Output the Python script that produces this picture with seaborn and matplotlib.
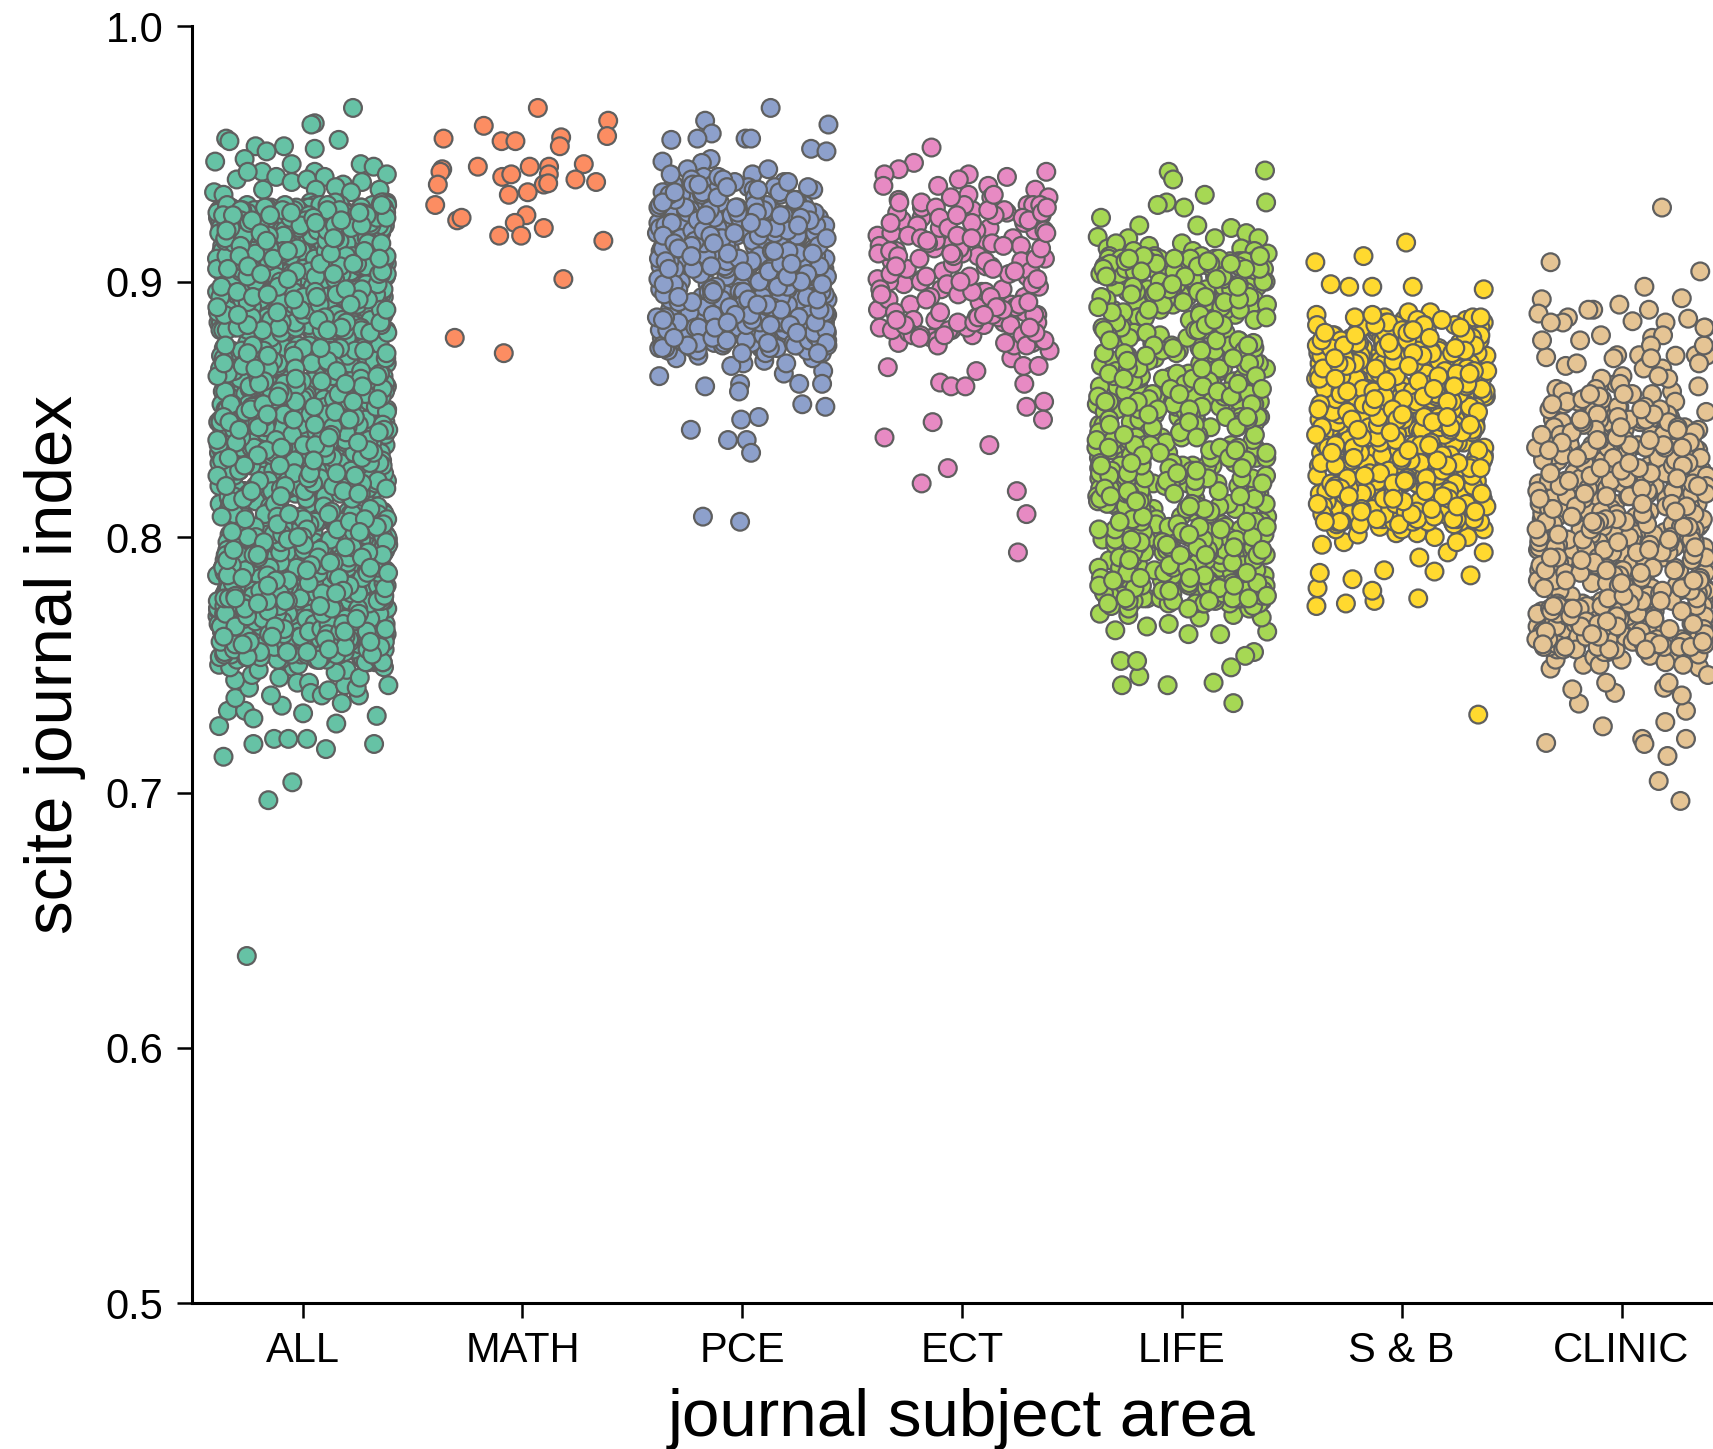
import matplotlib
matplotlib.use("Agg")
import matplotlib.pyplot as plt
import numpy as np
import seaborn as sns
import pandas as pd

categories = ["ALL", "MATH", "PCE", "ECT", "LIFE", "S & B", "CLINIC"]
colors = ["#66c2a5", "#fc8d62", "#8da0cb", "#e78ac3", "#a6d854", "#ffd92f", "#e5c494"]
y_ticks = [0.5, 0.6, 0.7, 0.8, 0.9, 1.0]

# individually readable points: offset from category centre, value
all_x = [-.254,-.156,-.047,-.36,-.224,-.13,-.065,.02,.106,.325,.337,.153,.002,-.38,-.34,-.262,-.224,-.306,-.095,-.144,.178,.256,.39,-.244,-.307,-.231,-.106,-.042,-.024,.029,.037,.087,.117,.193,.246,
         .229,.055,.04,.164,-.348,-.333,-.214,-.085,-.398,-.164,-.264,.055,-.05,.264,.323,.383,-.184,.055,-.403,.184,.383,
         -.30,-.25,-.12,-.05,.02,.1,.15,.27,.35,-.36,-.18,.22,.06,-.38,
         -.38,-.33,-.2,-.02,.08,.2,.33,.37,.15,-.1,.26]
all_y = [.636,.697,.704,.714,.719,.721,.721,.721,.717,.719,.730,.727,.731,.726,.732,.732,.729,.737,.734,.738,.735,.738,.742,.741,.744,.746,.745,.749,.743,.743,.739,.738,.740,.742,.741,
         .968,.962,.9615,.9555,.956,.955,.953,.953,.947,.951,.948,.952,.946,.946,.945,.942,.943,.943,.935,.938,.931,
         .940,.943,.941,.939,.940,.941,.937,.939,.936,.934,.936,.935,.936,.928,
         .750,.749,.748,.750,.752,.748,.751,.749,.747,.752,.745]
math_x = [.07,.39,.385,-.176,-.359,-.095,-.032,.176,.17,-.365,-.373,-.203,.033,.121,.279,-.092,-.051,.12,.241,.335,-.385,.097,.117,.024,-.062,-.397,.018,-.035,-.297,-.277,.097,-.106,-.006,.368,.186,-.308,-.085]
math_y = [.968,.963,.957,.961,.956,.955,.955,.9565,.953,.944,.943,.945,.945,.945,.946,.941,.942,.942,.940,.939,.938,.938,.9385,.935,.934,.930,.926,.923,.924,.925,.921,.918,.918,.916,.901,.878,.872]
pce_x = [.129,-.169,-.139,-.204,-.323,.015,.04,.392,.313,.383,-.363,-.144,-.184,-.378,-.234,-.169,-.01,-.015,-.005,.075,-.065,.02,.04,-.179,-.01,.273,.378,.189,.259,.368,.363,.005,
         -.3,-.05,.1,.32,-.2,.2]
pce_y = [.968,.963,.958,.956,.9555,.956,.956,.9615,.952,.951,.947,.948,.9465,.863,.842,.859,.860,.857,.846,.847,.838,.838,.833,.808,.806,.852,.851,.864,.860,.865,.860,.868,
         .870,.867,.869,.870,.871,.868]
ect_x = [-.139,-.219,-.288,-.353,-.358,.383,.204,.03,-.015,-.109,.119,.333,.393,.298,-.338,.398,.283,.373,.293,.368,-.134,-.353,.124,-.065,-.184,.249,.293,.254,-.1,-.05,.015,.065,.224,.279,.348]
ect_y = [.9525,.9465,.944,.942,.9375,.943,.941,.942,.940,.9375,.9375,.936,.933,.930,.8665,.873,.860,.853,.851,.846,.845,.839,.836,.827,.821,.818,.809,.794,.8605,.859,.859,.865,.870,.867,.867]
life_x = [.378,-.06,-.04,.383,.104,-.07,-.11,.01,-.368,-.194,.07,.224,-.244,-.383,-.338,.293,.348,.234,-.273,-.065,.144,-.194,.224,.328,.288,-.278,-.204,-.303,-.159,-.06,.03,.388,.174,-.373,-.244,.08,.234,.363,
          -.3,-.15,.0,.15,.27,-.22,.05,.33,.39]
life_y = [.9435,.943,.94,.931,.934,.931,.930,.929,.925,.922,.922,.921,.917,.9175,.913,.919,.917,.735,.742,.742,.743,.7455,.749,.755,.7535,.7515,.7515,.7635,.765,.766,.762,.763,.762,.770,.7695,.7685,.7695,.7685,
          .915,.914,.915,.917,.913,.912,.912,.912,.911]
sb_x = [.02,-.174,-.393,.373,-.323,-.239,-.134,.05,.348,-.388,-.254,-.124,.075,-.383,-.134,-.224,-.373,-.08,.149,.313,.08,.209,.373,-.363,-.263,.07,-.025,.373,
        -.3,-.1,.15,.3,-.2,.0,.25]
sb_y = [.9153,.91,.9076,.897,.899,.898,.898,.898,.7305,.773,.774,.775,.776,.78,.779,.7835,.786,.787,.7865,.785,.792,.794,.794,.797,.798,.8015,.8015,.803,
        .803,.804,.800,.800,.801,.803,.798]
clinic_x = [.184,-.323,.358,.104,.274,-.363,-.378,-.129,-.244,-.01,.05,.2,.303,.139,-.02,.08,.338,.388,-.343,.268,.169,.209,-.343,.094,.104,.293,-.085,.199,.293,-.194,-.224,-.03,-.07,.194,.214,.274,-.323,-.174,-.124,.353,.393,.254,.129,
            -.3,-.1,.0,.2,.35,.28]
clinic_y = [.929,.9076,.904,.898,.8935,.8931,.8875,.889,.886,.891,.8845,.884,.8855,.878,.8712,.8712,.8712,.8735,.8704,.6967,.7045,.7143,.7194,.721,.719,.721,.7259,.7276,.732,.7348,.7404,.739,.743,.741,.743,.738,.7485,.75,.753,.749,.746,.7535,.7535,
            .752,.750,.752,.751,.754,.750]

# dense blocks, values in thousandths, estimated from the visible density;
# horizontal spread comes from the strip jitter
all_dense = [751,812,887,768,903,779,842,925,757,861,794,918,773,836,899,752,884,807,929,766,851,912,783,826,874,759,908,797,843,921,771,864,889,755,818,931,786,853,897,762,
 832,916,776,871,804,927,754,846,893,769,815,906,788,859,923,758,838,881,774,901,811,928,765,849,895,781,823,913,756,868,800,924,772,856,886,761,829,910,792,844,
 919,753,876,809,930,767,841,898,778,821,905,790,863,926,760,835,883,775,915,802,852,892,770,817,922,785,847,878,763,909,798,834,927,755,866,888,780,825,901,793,
 857,917,764,840,894,777,813,928,788,850,882,758,904,806,831,920,772,870,896,783,845,911,761,819,925,795,858,885,768,907,801,837,923,757,873,891,779,828,914,790,
 854,929,766,843,899,775,810,918,786,861,880,759,903,797,833,926,771,867,893,782,848,908,763,822,921,792,855,887,755,912,804,839,930,769,875,897,778,826,905,789,
 859,916,760,846,884,773,816,924,796,852,890,765,900,808,830,927,781,869,895,756,842,910,770,824,919,787,860,881,762,906,799,836,922,776,872,898,784,847,913,753,
 820,928,793,856,886,767,902,803,832,925,774,865,892,780,844,909,758,827,917,791,851,883,764,904,807,838,929,772,874,896,785,849,915,757,814,923,794,862,889,768,
 901,800,835,920,777,868,894,782,841,911,761,823,926,789,857,880,770,907,805,829,918,754,871,897,783,846,905,763,818,924,795,853,885,775,912,802,837,927,766,866,
 891,787,843,903,759,825,921,792,860,882,773,908,809,831,916,778,873,898,756,848,910,769,815,928,786,855,887,762,902,798,839,923,781,864,893,771,845,906,790,821,
 919,752,858,884,765,913,803,834,925,776,870,895,784,850,900,760,828,917,797,854,889,767,904,806,840,929,774,867,892,755,842,911,788,819,922,793,861,881,763,907,
 801,833,926,779,875,896,770,847,909,785,824,915,757,852,886,772,903,808,836,920,768,869,894,782,844,912,761,816,927,791,859,883,775,905,799,830,924,764,872,897,
 786,849,908,758,826,918,794,856,888,777,902,804,838,921,771,865,890,783,841,914,760,822,928,796,862,885,766,910,800,835,925,773,874,893,789,846,906,754,817,919,
 787,853,882,769,904,807,832,923,780,868,898,762,843,911,792,828,916,775,857,887,756,901,802,839,930,784,871,895,765,848,907,790,820,926,778,860,884,770,913,805,
 834,922,759,866,891,786,845,903,772,825,917,795,851,889,763,909,798,837,927,776,873,896,781,842,912,768,818,924,793,855,881,761,905,809,831,920,774,863,894,788]
pce_dense = [874,902,931,883,915,891,942,877,908,924,886,897,936,873,911,889,928,879,905,919,893,939,875,900,922,884,913,896,933,881,907,926,888,917,899,944,876,903,920,890,
 912,878,929,894,906,885,937,872,910,923,882,898,916,887,934,880,904,925,892,909,875,941,895,918,883,901,927,877,914,889,930,896,906,881,921,874,911,893,938,886,
 902,919,879,908,928,891,915,884,899,935,876,910,924,888,903,917,881,932,894,907,873,926,897,913,885,900,940,878,912,922,890,905,887,929,882,918,895,909,875,936,
 892,901,920,884,914,877,927,889,906,923,880,898,933,874,911,916,886,904,925,893,881,939,896,908,921,883,913,876,930,890,902,918,887,907,928,879,899,934,872,912,
 924,894,905,882,919,888,915,876,926,891,903,937,884,909,897,921,878,914,886,931,900,917,875,906,923,892,881,911,889,927,877,898,935,895,904,920,883,913,874,929,
 893,908,885,918,896,902,925,880,910,887,932,876,915,899,922,882,905,891,938,878,912,894,907,926,884]
ect_dense = [928,903,887,916,894,925,879,908,934,884,899,921,891,912,877,930,905,886,918,896,933,881,910,889,924,901,875,915,892,927,883,906,920,897,880,913,888,929,902,878,
 917,893,923,885,909,900,876,931,890,914,882,904,926,895,879,919,887,911,898,932,884,907,922,891,877,913,900,928,886,905,918,881,894,924,889,910,897,876,916,903,
 930,883,908,921,892,878,912,899,926,885,904,915,888,880,920,896,909,927,882,893,917,901,875,923,890,906,929,884,898,914,887,879,911,902,925,895]
life_dense = [778,843,897,805,866,788,829,909,774,853,815,881,796,838,904,782,861,821,892,776,847,908,799,872,833,786,898,810,856,780,825,906,793,868,841,775,889,803,851,817,
 902,784,835,877,797,859,909,779,823,895,808,845,873,790,831,905,776,863,813,886,800,850,899,785,827,870,794,839,907,781,857,819,893,777,846,880,802,834,903,788,
 864,811,875,796,843,896,783,828,908,772,855,816,888,804,836,901,791,869,848,779,822,910,798,860,832,883,786,844,894,775,812,874,801,852,905,789,826,866,793,840,
 898,781,858,818,890,806,835,907,776,847,871,795,829,902,784,862,814,885,799,853,896,778,824,878,809,841,909,787,856,831,892,773,849,820,904,797,867,837,882,782,
 845,900,803,859,815,876,790,827,908,777,851,833,894,800,863,823,887,785,842,903,774,854,817,872,794,838,897,780,828,906,807,860,846,884,788,821,910,776,869,835,
 891,798,852,813,901,783,843,879,792,826,905,775,857,839,895,804,865,819,886,787,848,909,779,830,873,801,855,899,789,841,812,893,777,861,824,902,795,850,881,784,
 836,907,774,858,816,889,806,844,875,791,828,904,780,866,834,896,799,853,822,883,786,847,908,776,862,811,900,793,840,877,803,856,825,891,782,838,905,778,868,818]
sb_dense = [845,812,873,826,888,858,806,837,881,851,819,866,830,843,875,809,855,822,884,839,862,815,848,828,870,807,853,835,878,820,860,842,811,867,825,885,850,832,872,817,
 857,840,805,864,827,882,846,813,869,834,854,821,876,808,859,838,886,824,849,871,816,844,831,863,810,880,852,836,868,819,856,841,874,828,806,861,847,814,877,833,
 853,823,866,842,883,811,858,837,870,818,850,829,879,807,864,845,825,855,873,813,840,861,832,887,820,848,869,809,856,835,875,826,852,815,865,843,881,822,859,831,
 872,806,849,838,867,817,854,828,884,812,846,862,834,876,821,857,841,808,870,824,851,836,878,814,860,844,829,866,810,855,833,882,819,847,873,827,858,840,805,863,
 830,852,868,816,843,875,823,856,837,885,811,849,864,832,871,818,854,842,879,807,861,826,845,869,821,853,835,874,813,858,839,883,828,850,866,809,846,872,824,857,
 834,877,817,852,841,862,812,868,830,855,844,880,820,848,873,806,860,836,865,825,851,876,815,843,870,831,856,838,886,810,847,863,827,854,881,819,842,867,808,859,
 833,874,822,850,845,871,814,861,835,878,826,853,840,864,811,857,829,883,817,849,869,823,846,875,807,855,837,866,832,852,879,818,843,872,812,860,828,847,865,821,
 856,839,877,809,851,834,868,824,858,844,882,815,848,862,830,873,806,854,841,870,819,845,876,827,850,836,864,813,859,831,880,822,853,867,810,847,842,874,816,857]
clinic_dense = [812,776,838,795,764,853,821,783,807,769,845,790,828,758,866,801,773,834,815,760,879,797,842,781,825,767,809,851,787,832,756,871,804,775,848,818,792,762,836,799,
 884,779,823,811,766,857,788,840,803,759,829,774,846,794,816,761,862,783,837,806,771,826,755,853,798,819,778,843,789,765,833,808,773,889,801,822,760,849,785,814,
 768,839,796,827,757,860,780,810,844,792,770,831,802,763,856,787,824,776,841,799,817,759,835,782,807,867,772,828,794,848,765,820,788,838,756,805,777,852,797,813,
 769,830,784,843,761,809,875,775,823,791,836,758,801,846,779,815,767,832,795,858,772,826,786,804,763,840,798,819,757,850,781,811,770,834,793,827,762,845,789,806,
 774,837,760,817,800,882,778,822,766,842,790,808,855,783,829,756,796,813,771,835,803,764,847,787,820,773,831,798,759,863,785,810,839,768,825,792,805,761,854,777,
 816,844,795,769,828,782,802,836,758,812,791,870,775,823,765,841,799,807,780,833,762,818,851,788,770,804,838,794,757,826,783,846,773,811,760,830,797,877,778,821,
 767,843,789,806,835,771,815,801,763,859,786,824,774,840,796,756,809,832,781,819,768,848,792,803,837,759,827,776,813,765,845,798,784,822,771,834,805,761,856,790,
 816,773,829,794,842,766,808,783,868,777,825,800,757,838,787,812,769,850,795,820,779,831,762,804,846,786,817,772,835,799,764,827,791,810,775,843,758,823,782,806]

dense_values = [all_dense, [], pce_dense, ect_dense, life_dense, sb_dense, clinic_dense]
# journals drawn per listed value: the list is a reading of the density, not every journal
journals_per_value = [4, 0, 2, 1.5, 2.5, 2, 2]
sparse_x = [all_x, math_x, pce_x, ect_x, life_x, sb_x, clinic_x]
sparse_y = [all_y, math_y, pce_y, ect_y, life_y, sb_y, clinic_y]


def weighted(vals, w):
    whole = int(w)
    return vals * whole + vals[: int(len(vals) * (w - whole))]


dense_df = pd.DataFrame(
    [(c, v / 1000) for c, vals, w in zip(categories, dense_values, journals_per_value)
     for v in weighted(vals, w)],
    columns=["area", "index"])
sparse_df = pd.DataFrame(
    [(c, i + x, y) for i, (c, xs, ys) in enumerate(zip(categories, sparse_x, sparse_y))
     for x, y in zip(xs, ys)],
    columns=["area", "pos", "index"])

sns.set_style("ticks")
plt.rcParams["font.family"] = ["Liberation Sans", "DejaVu Sans"]

W, H = 1713, 1449
fig = plt.figure(figsize=(W / 100, H / 100), dpi=100)
ax = fig.add_axes([192.3 / W, 1 - 1303.4 / H, (W - 192.3) / W, (1303.4 - 26.2) / H])

palette = dict(zip(categories, colors))
edge = "#5f5f5f"
np.random.seed(4)  # stripplot's jitter only
sns.stripplot(data=dense_df, x="area", y="index", hue="area", order=categories,
              hue_order=categories, palette=palette, jitter=0.39, size=12.8,
              linewidth=1.6, edgecolor=edge, legend=False, ax=ax)
sns.scatterplot(data=sparse_df, x="pos", y="index", hue="area", hue_order=categories,
                palette=palette, s=12.8 ** 2, linewidth=1.6, edgecolor=edge,
                legend=False, ax=ax)

ax.set_xlim(-0.502, 6.416)
ax.set_ylim(0.5, 1.0)
ax.set_xticks(range(len(categories)))
ax.set_xticklabels(categories)
ax.set_yticks(y_ticks)
ax.set_yticklabels([f"{t:.1f}" for t in y_ticks])
ax.tick_params(axis="both", labelsize=30, length=11, width=1.8, color="black",
               labelcolor="black")
ax.tick_params(axis="x", pad=9)
ax.tick_params(axis="y", pad=10)
for side in ("top", "right"):
    ax.spines[side].set_visible(False)
for side in ("left", "bottom"):
    ax.spines[side].set_linewidth(2.2)
    ax.spines[side].set_color("black")
ax.set_xlabel("journal subject area", fontsize=48.5, color="black")
ax.set_ylabel("scite journal index", fontsize=48.5, color="black")
ax.xaxis.set_label_coords(0.506, -0.0665, transform=ax.transAxes)
ax.yaxis.set_label_coords(-0.070, 0.5, transform=ax.transAxes)

fig.savefig("out.png", dpi=100)
